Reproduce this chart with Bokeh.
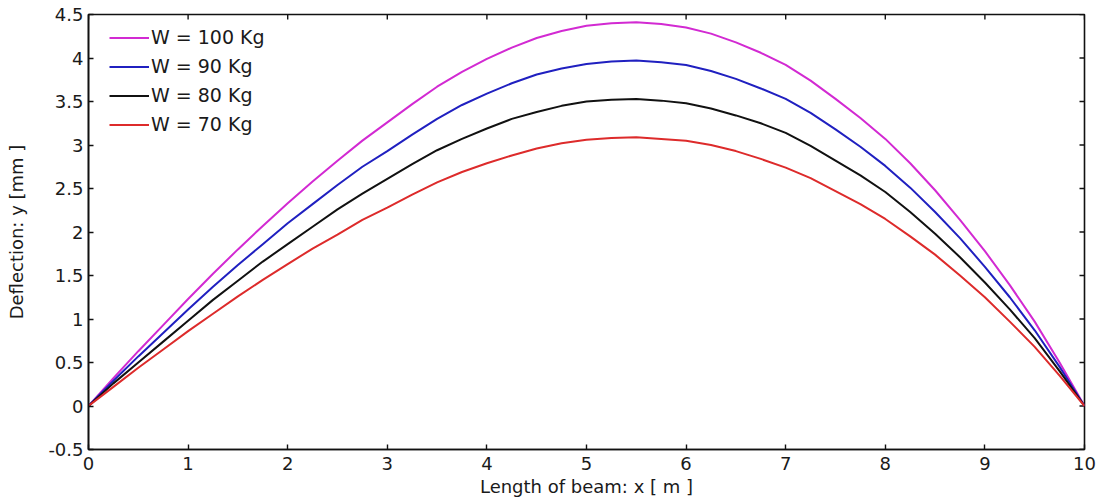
import math
from bokeh.plotting import figure
from bokeh.models import Range1d, FixedTicker, LinearAxis, Legend, LegendItem
from bokeh.embed import file_html
from bokeh.resources import INLINE

# ---- data ----
x_m = [0, 0.25, 0.5, 0.75, 1.0, 1.25, 1.5, 1.75, 2.0, 2.25, 2.5,
       2.75, 3.0, 3.25, 3.5, 3.75, 4.0, 4.25, 4.5, 4.75, 5.0,
       5.25, 5.5, 5.75, 6.0, 6.25, 6.5, 6.75, 7.0, 7.25, 7.5,
       7.75, 8.0, 8.25, 8.5, 8.75, 9.0, 9.25, 9.5, 9.75, 10.0]
w100 = [0, 0.32, 0.63, 0.93, 1.23, 1.52, 1.80, 2.07, 2.33, 2.58, 2.82,
        3.05, 3.26, 3.47, 3.67, 3.84, 3.99, 4.12, 4.23, 4.31, 4.37,
        4.40, 4.41, 4.39, 4.35, 4.28, 4.18, 4.06, 3.92, 3.74, 3.53,
        3.31, 3.07, 2.79, 2.48, 2.14, 1.78, 1.39, 0.97, 0.50, 0]
w90 = [0, 0.29, 0.57, 0.84, 1.11, 1.37, 1.62, 1.86, 2.10, 2.32, 2.54,
       2.75, 2.93, 3.12, 3.30, 3.46, 3.59, 3.71, 3.81, 3.88, 3.93,
       3.96, 3.97, 3.95, 3.92, 3.85, 3.76, 3.65, 3.53, 3.37, 3.18,
       2.98, 2.76, 2.51, 2.23, 1.93, 1.60, 1.25, 0.87, 0.45, 0]
w80 = [0, 0.26, 0.50, 0.74, 0.98, 1.22, 1.44, 1.66, 1.86, 2.06, 2.26,
       2.44, 2.61, 2.78, 2.94, 3.07, 3.19, 3.30, 3.38, 3.45, 3.50,
       3.52, 3.53, 3.51, 3.48, 3.42, 3.34, 3.25, 3.14, 2.99, 2.82,
       2.65, 2.46, 2.23, 1.98, 1.71, 1.42, 1.11, 0.78, 0.40, 0]
w70 = [0, 0.22, 0.44, 0.65, 0.86, 1.06, 1.26, 1.45, 1.63, 1.81, 1.97,
       2.14, 2.28, 2.43, 2.57, 2.69, 2.79, 2.88, 2.96, 3.02, 3.06,
       3.08, 3.09, 3.07, 3.05, 3.00, 2.93, 2.84, 2.74, 2.62, 2.47,
       2.32, 2.15, 1.95, 1.74, 1.50, 1.25, 0.97, 0.68, 0.35, 0]
series_labels = ["W = 100 Kg", "W = 90 Kg", "W = 80 Kg", "W = 70 Kg"]
x_ticks = [0, 1, 2, 3, 4, 5, 6, 7, 8, 9, 10]
y_ticks = [-0.5, 0, 0.5, 1, 1.5, 2, 2.5, 3, 3.5, 4, 4.5]
y_tick_labels = ["-0.5", "0", "0.5", "1", "1.5", "2", "2.5", "3", "3.5", "4", "4.5"]
X_MIN, X_MAX, Y_MIN, Y_MAX = 0, 10, -0.5, 4.5

FONT = "DejaVu Sans"
TXT = "#1a1a1a"
FRAME = "#111111"

p = figure(width=1106, height=504, output_backend="svg", toolbar_location=None,
           x_range=Range1d(X_MIN, X_MAX), y_range=Range1d(Y_MIN, Y_MAX),
           min_border_left=88, min_border_right=22, min_border_top=14,
           min_border_bottom=55, x_axis_location=None, y_axis_location=None)
p.xgrid.visible = False
p.ygrid.visible = False
p.outline_line_color = FRAME
p.outline_line_width = 1.6
p.background_fill_color = "white"


def make_axis(ticks):
    ax = LinearAxis(ticker=FixedTicker(ticks=ticks))
    ax.axis_line_color = FRAME
    ax.axis_line_width = 1.6
    ax.major_tick_line_color = FRAME
    ax.major_tick_line_width = 1.4
    ax.major_tick_in = 5
    ax.major_tick_out = 0
    ax.minor_tick_line_color = None
    ax.major_label_text_font = FONT
    ax.major_label_text_font_size = "18px"
    ax.major_label_text_color = TXT
    ax.axis_label_text_font = FONT
    ax.axis_label_text_font_size = "18px"
    ax.axis_label_text_font_style = "normal"
    ax.axis_label_text_color = TXT
    return ax


xb = make_axis(x_ticks)
xb.axis_label = "Length of beam: x [ m ]"
xb.major_label_standoff = 7
xb.axis_label_standoff = 3
p.add_layout(xb, "below")

yl = make_axis(y_ticks)
yl.axis_label = "Deflection: y [mm ]"
yl.major_label_overrides = {v: s for v, s in zip(y_ticks, y_tick_labels)}
yl.major_label_standoff = 5
yl.axis_label_standoff = 18
p.add_layout(yl, "left")

# inward ticks on the top and right edges (MATLAB box style), clipped to the frame
p.scatter(x=x_ticks, y=[Y_MAX] * len(x_ticks), marker="dash", angle=math.pi / 2,
          size=10, line_color=FRAME, line_width=1.4)
p.scatter(x=[X_MAX] * len(y_ticks), y=y_ticks, marker="dash",
          size=10, line_color=FRAME, line_width=1.4)

colors = ["#d22ad2", "#2020c0", "#111111", "#dd2b2b"]
data = [w100, w90, w80, w70]
renderers = []
for ys, c in zip(data, colors):
    renderers.append(p.line(x_m, ys, line_color=c, line_width=2))

legend = Legend(items=[LegendItem(label=l, renderers=[r])
                       for l, r in zip(series_labels, renderers)],
                location=(21, 314))
legend.border_line_color = None
legend.background_fill_color = "white"
legend.background_fill_alpha = 1.0
legend.label_text_font = FONT
legend.label_text_font_size = "19px"
legend.label_text_color = TXT
legend.glyph_width = 40
legend.glyph_height = 21
legend.label_height = 21
legend.label_standoff = 2
legend.spacing = 7
legend.padding = 6
legend.margin = 0
p.add_layout(legend)

open("out.html", "w").write(file_html(p, INLINE))
